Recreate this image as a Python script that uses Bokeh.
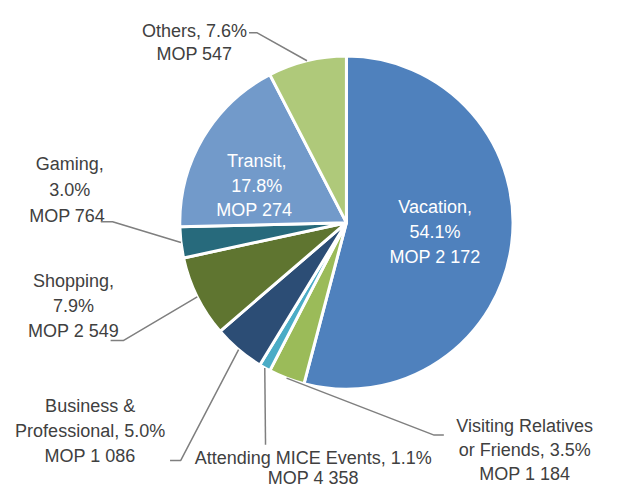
import math
from bokeh.plotting import figure
from bokeh.models import Range1d
from bokeh.core.properties import value
from bokeh.embed import file_html
from bokeh.resources import INLINE

# ---- data ----
categories = ["Vacation", "Visiting Relatives or Friends", "Attending MICE Events",
              "Business & Professional", "Shopping", "Gaming", "Transit", "Others"]
shares = [54.1, 3.5, 1.1, 5.0, 7.9, 3.0, 17.8, 7.6]
mop = ["2 172", "1 184", "4 358", "1 086", "2 549", " 764", " 274", "547"]
label_lines = [
    ["Vacation,", "54.1%", "MOP 2 172"],
    ["Visiting Relatives", "or Friends, 3.5%", "MOP 1 184"],
    ["Attending MICE Events, 1.1%", "MOP 4 358"],
    ["Business &", "Professional, 5.0%", "MOP 1 086"],
    ["Shopping,", "7.9%", "MOP 2 549"],
    ["Gaming,", "3.0%", "MOP  764"],
    ["Transit,", "17.8%", "MOP  274"],
    ["Others, 7.6%", "MOP 547"],
]

# ---- style / layout ----
colors = ["#4F81BD", "#9BBB59", "#4BACC6", "#2C4D75", "#5F7530", "#276A7C", "#729ACA", "#AFC97A"]
inside = [True, False, False, False, False, False, True, False]
# label block: center x, first baseline y (reference pixel coords)
label_pos = [(446, 212), (538, 437), (321, 470), (92, 416), (75, 288), (71, 168), (263, 165), (199, 31)]
line_gap = [25.5, 24.5, 20, 25.5, 25.5, 26.5, 25, 24]
# leader line: start point and elbow (reference coords); None for inside labels
leader = [None, ((455, 446), (445, 446)), ((272, 456), (272, 456)), ((174, 472), (185, 472)),
          ((113, 349), (126, 349)), ((103, 227), (115, 227)), None, ((255, 33), (263, 33))]

W, H = 609, 488
SCALE = W / 625.0
CX, CY, R = 355, 228, 171
FONT = "Liberation Sans"
FS = "18px"


def Y(img_y):
    return 504 - img_y


p = figure(width=W, height=H, output_backend="svg", toolbar_location=None,
           x_range=Range1d(0, 625), y_range=Range1d(504 - H / SCALE, 504),
           min_border=0, outline_line_color=None)
p.axis.visible = False
p.grid.visible = False

total = sum(shares)
cum = 0.0
starts, ends, mids = [], [], []
for s in shares:
    a0 = math.pi / 2 - 2 * math.pi * (cum + s) / total
    a1 = math.pi / 2 - 2 * math.pi * cum / total
    starts.append(a0)
    ends.append(a1)
    mids.append((a0 + a1) / 2)
    cum += s

p.wedge(x=[CX] * len(shares), y=[Y(CY)] * len(shares), radius=R,
        start_angle=starts, end_angle=ends, fill_color=colors,
        line_color="white", line_width=3)

for i, lines in enumerate(label_lines):
    lx, ly = label_pos[i]
    col = "white" if inside[i] else "#404040"
    xs = [lx] * len(lines)
    ys = [Y(ly + k * line_gap[i]) for k in range(len(lines))]
    p.text(x=xs, y=ys, text=lines, text_align="center", text_baseline="alphabetic",
           text_font=value(FONT), text_font_size=FS, text_color=col)
    if leader[i] is not None:
        (sx, sy), (ex, ey) = leader[i]
        ax = CX + R * math.cos(mids[i])
        ay = Y(CY) + R * math.sin(mids[i])
        p.line(x=[sx, ex, ax], y=[Y(sy), Y(ey), ay], line_color="#7F7F7F", line_width=1.5)

open("out.html", "w").write(file_html(p, INLINE))
